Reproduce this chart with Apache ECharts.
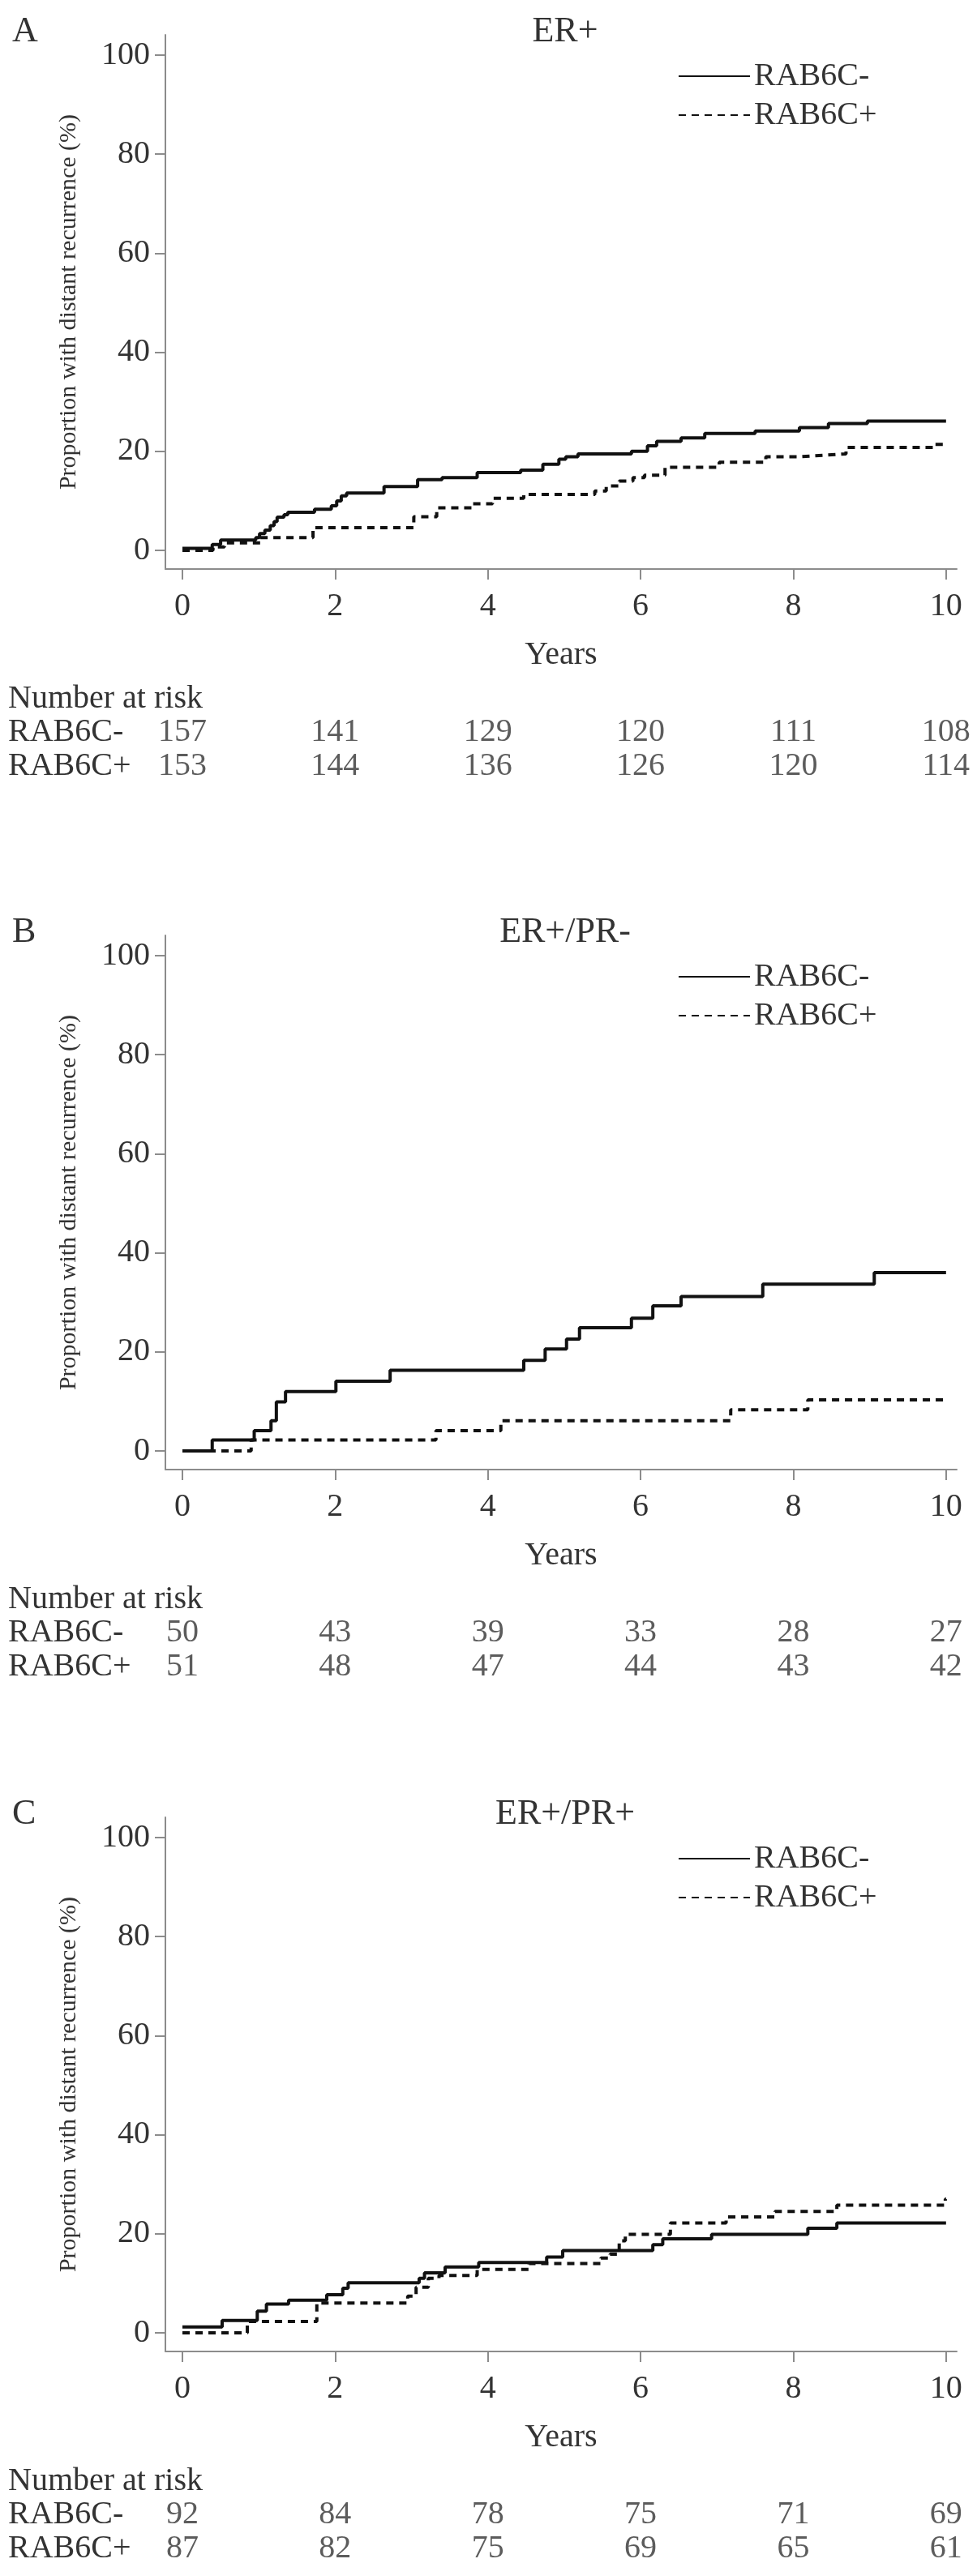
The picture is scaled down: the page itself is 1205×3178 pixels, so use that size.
<!DOCTYPE html>
<html>
<head>
<meta charset="utf-8">
<script src="https://cdn.jsdelivr.net/npm/echarts@6/dist/echarts.min.js"></script>
<style>
html,body{margin:0;padding:0;background:#fff;}
#chart{width:1205px;height:3178px;}
</style>
</head>
<body>
<div id="chart"></div>
<script>
// ---- data ----
const panelLetters = ['A', 'B', 'C'];
const panelTitles = ['ER+', 'ER+/PR-', 'ER+/PR+'];
const groupNames = ['RAB6C-', 'RAB6C+'];
const yearTicks = [0, 2, 4, 6, 8, 10];
const pctTicks = [0, 20, 40, 60, 80, 100];

// [years, % with distant recurrence] step points
const erNeg = [[0,0.4],[0.39,1.2],[0.5,2.1],[0.96,2.6],[1.01,3.4],[1.08,4.1],[1.15,5.0],[1.2,5.8],[1.24,6.7],[1.33,7.2],[1.38,7.7],[1.73,8.3],[1.95,9.0],[2.02,10.0],[2.08,11.0],[2.15,11.6],[2.64,12.9],[3.08,14.3],[3.4,14.7],[3.86,15.7],[4.43,16.2],[4.72,17.4],[4.93,18.4],[5.02,18.9],[5.18,19.5],[5.88,20.0],[6.09,21.1],[6.21,22.0],[6.53,22.7],[6.84,23.6],[7.5,24.1],[8.08,24.8],[8.46,25.6],[8.97,26.1],[10,26.1]];
const erPos = [[0,0],[0.4,0.7],[0.55,1.5],[1.02,2.6],[1.71,4.6],[3.03,6.8],[3.33,8.6],[3.79,9.4],[4.06,10.5],[4.47,11.3],[5.4,12.0],[5.55,13.0],[5.72,14.0],[5.9,14.7],[6.05,15.2],[6.32,16.8],[7.03,17.8],[7.64,18.9],[8.07,19.2],[8.4,19.5],[8.69,20.8],[9.85,21.4],[10,21.4]];
const prNegNeg = [[0,0],[0.39,2.2],[0.94,4.1],[1.16,6.1],[1.23,9.9],[1.35,12.0],[2.01,14.1],[2.72,16.3],[4.47,18.3],[4.75,20.6],[5.03,22.6],[5.2,24.9],[5.88,26.8],[6.16,29.3],[6.53,31.2],[7.6,33.7],[9.06,36.0],[10,36.0]];
const prNegPos = [[0,0],[0.9,2.2],[3.32,4.1],[4.17,6.1],[7.18,8.3],[8.19,10.3],[10,10.3]];
const prPosNeg = [[0,1.2],[0.52,2.5],[0.98,4.4],[1.1,5.8],[1.39,6.6],[1.89,7.7],[2.1,9.0],[2.17,10.1],[3.1,11.0],[3.17,12.1],[3.44,13.3],[3.88,14.2],[4.77,15.3],[4.98,16.6],[6.16,17.8],[6.29,19.0],[6.93,19.9],[8.19,21.1],[8.57,22.2],[10,22.2]];
const prPosPos = [[0,0],[0.85,2.3],[1.76,6.0],[2.95,7.4],[3.06,9.2],[3.22,11.0],[3.36,11.6],[3.86,12.8],[4.54,14.0],[5.48,15.1],[5.6,15.9],[5.72,18.6],[5.8,19.9],[6.39,22.2],[7.12,23.4],[7.76,24.5],[8.57,25.8],[9.99,27.0],[10,27.0]];

// numbers at risk at yearTicks
const riskErNeg = [157, 141, 129, 120, 111, 108];
const riskErPos = [153, 144, 136, 126, 120, 114];
const riskPrNegNeg = [50, 43, 39, 33, 28, 27];
const riskPrNegPos = [51, 48, 47, 44, 43, 42];
const riskPrPosNeg = [92, 84, 78, 75, 71, 69];
const riskPrPosPos = [87, 82, 75, 69, 65, 61];

const curves = [[erNeg, erPos], [prNegNeg, prNegPos], [prPosNeg, prPosPos]];
const risks = [[riskErNeg, riskErPos], [riskPrNegNeg, riskPrNegPos], [riskPrPosNeg, riskPrPosPos]];

// ---- layout ----
const FONT = 'Liberation Serif';
const TXT = '#333';
const AX = '#8c8c8c';
const FS = 40;
const offsets = [0, 1111, 2199];
const gridLeft = 204, gridRight = 25;
const xMin = -0.223, xMax = 10.14;
const yMin = -3.76, yMax = 104.1;

const chart = echarts.init(document.getElementById('chart'), null, {renderer: 'canvas'});

const option = {
  backgroundColor: '#fff',
  animation: false,
  textStyle: {fontFamily: FONT, color: TXT},
  title: [], legend: [], grid: [], xAxis: [], yAxis: [], series: [], graphic: []
};

for (let p = 0; p < 3; p++) {
  const o = offsets[p];
  option.title.push({text: panelLetters[p], left: 10, top: o + 12, textStyle: {fontFamily: FONT, fontSize: 44, fontWeight: 'normal', color: TXT}});
  option.title.push({text: panelTitles[p], left: 692, textAlign: 'center', top: o + 12, textStyle: {fontFamily: FONT, fontSize: 44, fontWeight: 'normal', color: TXT}});

  // main plot grid
  option.grid.push({left: gridLeft, right: gridRight, top: o + 43, height: 659, containLabel: false});
  // risk table grid
  option.grid.push({left: gridLeft, right: gridRight, top: o + 882, height: 84, containLabel: false});

  const gMain = p * 2, gRisk = p * 2 + 1;
  option.xAxis.push({
    type: 'value', gridIndex: gMain, min: xMin, max: xMax,
    name: 'Years', nameLocation: 'middle', nameGap: 86,
    nameTextStyle: {fontFamily: FONT, fontSize: FS, color: TXT},
    axisLine: {show: true, onZero: false, lineStyle: {color: AX, width: 2}},
    axisTick: {show: true, length: 13, lineStyle: {color: AX, width: 2}, customValues: yearTicks},
    axisLabel: {fontFamily: FONT, fontSize: FS, color: TXT, margin: 26, customValues: yearTicks},
    splitLine: {show: false}
  });
  option.xAxis.push({type: 'value', gridIndex: gRisk, min: xMin, max: xMax, show: false});

  option.yAxis.push({
    type: 'value', gridIndex: gMain, min: yMin, max: yMax,
    name: 'Proportion with distant recurrence (%)', nameLocation: 'middle', nameGap: 104,
    nameTextStyle: {fontFamily: FONT, fontSize: 30, color: TXT},
    axisLine: {show: true, onZero: false, lineStyle: {color: AX, width: 2}},
    axisTick: {show: true, length: 13, lineStyle: {color: AX, width: 2}, customValues: pctTicks},
    axisLabel: {fontFamily: FONT, fontSize: FS, color: TXT, margin: 19, customValues: pctTicks},
    splitLine: {show: false}
  });
  option.yAxis.push({
    type: 'category', gridIndex: gRisk, data: groupNames, inverse: true,
    axisLine: {show: false}, axisTick: {show: false}, splitLine: {show: false},
    axisLabel: {fontFamily: FONT, fontSize: FS, color: TXT, align: 'left', margin: 194, interval: 0}
  });

  // curves
  for (let g = 0; g < 2; g++) {
    option.series.push({
      type: 'line', name: groupNames[g], xAxisIndex: gMain, yAxisIndex: gMain,
      data: curves[p][g], step: 'end', symbol: 'none', showSymbol: false,
      lineStyle: {color: '#111', width: 4, type: g === 0 ? 'solid' : [9, 7]},
      itemStyle: {color: '#111'}, z: g === 0 ? 3 : 2
    });
    option.series.push({
      type: 'scatter', name: 'risk-' + groupNames[g], xAxisIndex: gRisk, yAxisIndex: gRisk,
      data: yearTicks.map((t, i) => [t, g, risks[p][g][i]]),
      symbol: 'rect', symbolSize: 1, itemStyle: {color: 'rgba(0,0,0,0)'},
      label: {show: true, position: 'inside', formatter: d => String(d.value[2]), fontFamily: FONT, fontSize: FS, color: TXT},
      silent: true
    });
  }

  option.legend.push({
    data: groupNames, orient: 'vertical', left: 836, top: o + 74, padding: 0,
    itemWidth: 88, itemHeight: 4, itemGap: 8, itemTextGap: 22,
    itemStyle: {opacity: 0},
    textStyle: {fontFamily: FONT, fontSize: FS, color: TXT}, selectedMode: false
  });

  option.graphic.push({type: 'text', left: 10, top: o + 842, style: {text: 'Number at risk', font: FS + 'px "' + FONT + '"', fill: TXT}});
}

chart.setOption(option);
</script>
</body>
</html>
